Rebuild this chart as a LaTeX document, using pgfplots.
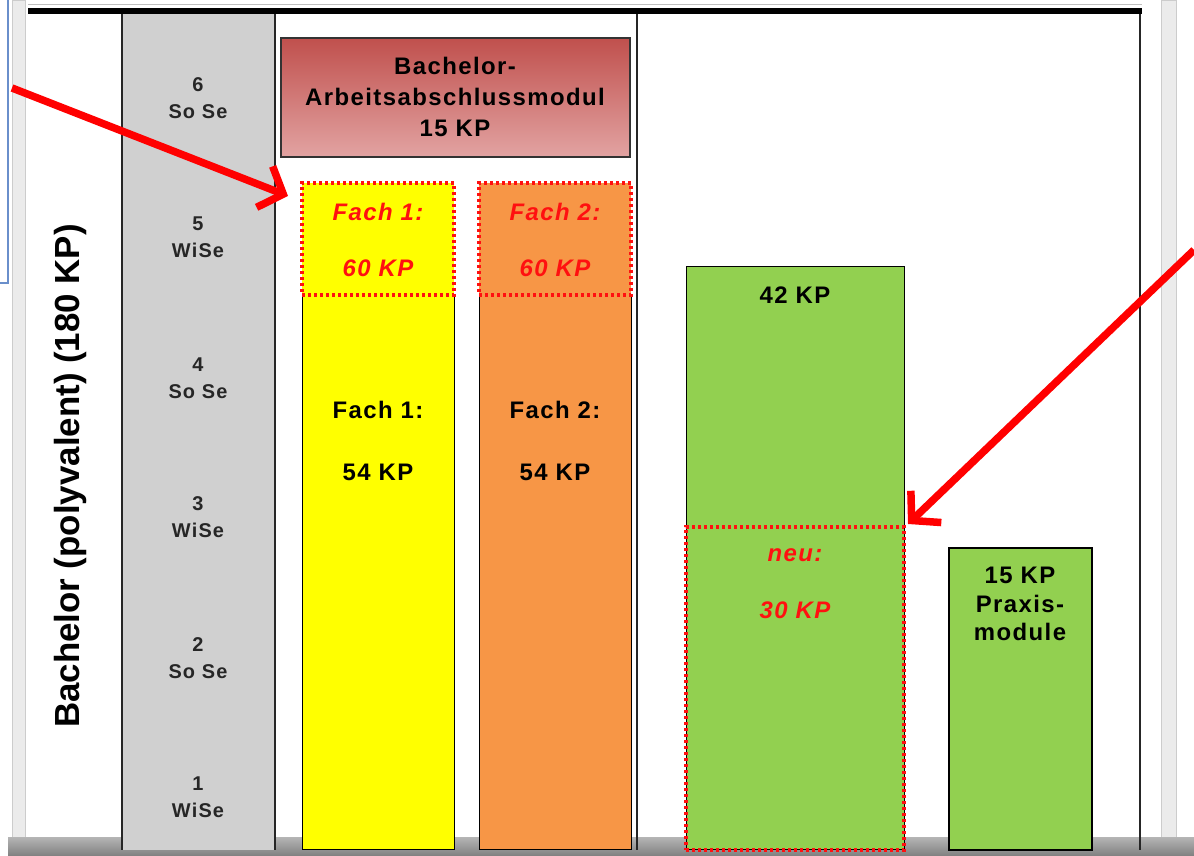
\documentclass[border=0pt]{standalone}
\usepackage{fontspec}
\setmainfont{Liberation Sans}
\newfontfamily\spaced[LetterSpace=6]{Liberation Sans}
\usepackage{pgfplots}
\pgfplotsset{compat=1.18}
\usetikzlibrary{arrows.meta}

\definecolor{colgray}{HTML}{D0D0D0}
\definecolor{colyel}{HTML}{FFFF00}
\definecolor{colora}{HTML}{F79646}
\definecolor{colgrn}{HTML}{92D050}
\definecolor{redtop}{HTML}{C0504D}
\definecolor{redbot}{HTML}{E2A3A2}
\definecolor{kpred}{HTML}{FF1010}
\definecolor{selblue}{HTML}{6A8FCB}

\begin{document}
\begin{tikzpicture}
\begin{axis}[
    x=1bp, y=1bp,
    xmin=0, xmax=1194, ymin=0, ymax=856,
    hide axis, clip=true,
]
% background and window frame
\addplot[fill=white, draw=none] coordinates {(0,0) (1194,0) (1194,856) (0,856)} --cycle;
\addplot[fill=black!8, draw=black!20] coordinates {(12,0) (25,0) (25,856) (12,856)} --cycle;
\addplot[fill=black!8, draw=black!20] coordinates {(1161,0) (1176,0) (1176,856) (1161,856)} --cycle;
\addplot[selblue, line width=1.4bp] coordinates {(8,856) (8,573) (0,573)};
\addplot[top color=black!30, bottom color=black!50, draw=none] coordinates {(8,0) (1194,0) (1194,18) (8,18)} --cycle;

% semester column
\addplot[fill=colgray, draw=none] coordinates {(122,6) (275,6) (275,842) (122,842)} --cycle;
\addplot[black!85, line width=1.6bp] coordinates {(122,6) (122,842)};
\addplot[black!85, line width=1.6bp] coordinates {(275,6) (275,842)};
\addplot[black!85, line width=1.6bp] coordinates {(637,6) (637,842)};
\addplot[black!85, line width=1.6bp] coordinates {(1140,6) (1140,842)};
\addplot[black!25, line width=1bp] coordinates {(28,851) (1142,851)};
\addplot[black, line width=6bp] coordinates {(28,845) (1142,845)};

% thesis module
\addplot[top color=redtop, bottom color=redbot, draw=black!80, line width=1.2bp]
    coordinates {(281,699) (630,699) (630,818) (281,818)} --cycle;

% Fach 1 / Fach 2 (54 KP plus extension to 60 KP)
\addplot[fill=colyel, draw=black, line width=1bp] coordinates {(302,6) (454,6) (454,561) (302,561)} --cycle;
\addplot[fill=colora, draw=black, line width=1bp] coordinates {(479,6) (631,6) (631,561) (479,561)} --cycle;
\addplot[fill=colyel, draw=none] coordinates {(302,561) (454,561) (454,673) (302,673)} --cycle;
\addplot[fill=colora, draw=none] coordinates {(479,561) (631,561) (631,673) (479,673)} --cycle;
\addplot[kpred, line width=3.2bp, dash pattern=on 3bp off 3bp] coordinates {(302,561) (454,561) (454,673) (302,673) (302,561)};
\addplot[kpred, line width=3.2bp, dash pattern=on 3bp off 3bp] coordinates {(479,561) (631,561) (631,673) (479,673) (479,561)};

% 42 KP with 30 KP new part, 15 KP practice modules
\addplot[fill=colgrn, draw=black, line width=1bp] coordinates {(686,6) (904,6) (904,589) (686,589)} --cycle;
\addplot[kpred, line width=3.2bp, dash pattern=on 3bp off 3bp] coordinates {(686,6) (904,6) (904,329) (686,329) (686,6)};
\addplot[fill=colgrn, draw=black, line width=1.6bp] coordinates {(949,6) (1092,6) (1092,308) (949,308)} --cycle;

% arrows
\addplot[red, line width=7.5bp, -{Straight Barb[length=20bp, width=44bp, line width=7.5bp]}] coordinates {(12,768) (288,660)};
\addplot[red, line width=7.5bp, -{Straight Barb[length=20bp, width=44bp, line width=7.5bp]}] coordinates {(1194,606) (908,332)};

% texts
\node[rotate=90, font=\bfseries\fontsize{35}{38}\selectfont] at (axis cs:70,380) {Bachelor (polyvalent) (180 KP)};
\node[align=center, font=\spaced\bfseries\fontsize{20}{27}\selectfont, text=black!85] at (axis cs:198,758) {6\\So Se};
\node[align=center, font=\spaced\bfseries\fontsize{20}{27}\selectfont, text=black!85] at (axis cs:198,619) {5\\WiSe};
\node[align=center, font=\spaced\bfseries\fontsize{20}{27}\selectfont, text=black!85] at (axis cs:198,478) {4\\So Se};
\node[align=center, font=\spaced\bfseries\fontsize{20}{27}\selectfont, text=black!85] at (axis cs:198,339) {3\\WiSe};
\node[align=center, font=\spaced\bfseries\fontsize{20}{27}\selectfont, text=black!85] at (axis cs:198,198) {2\\So Se};
\node[align=center, font=\spaced\bfseries\fontsize{20}{27}\selectfont, text=black!85] at (axis cs:198,59) {1\\WiSe};
\node[align=center, font=\spaced\bfseries\fontsize{24}{31}\selectfont] at (axis cs:455,759) {Bachelor-\\Arbeitsabschlussmodul\\15 KP};
\node[align=center, text=kpred, font=\spaced\bfseries\itshape\fontsize{24}{56}\selectfont] at (axis cs:378,616) {Fach 1:\\60 KP};
\node[align=center, text=kpred, font=\spaced\bfseries\itshape\fontsize{24}{56}\selectfont] at (axis cs:555,616) {Fach 2:\\60 KP};
\node[align=center, font=\spaced\bfseries\fontsize{24}{62}\selectfont] at (axis cs:378,415) {Fach 1:\\54 KP};
\node[align=center, font=\spaced\bfseries\fontsize{24}{62}\selectfont] at (axis cs:555,415) {Fach 2:\\54 KP};
\node[font=\spaced\bfseries\fontsize{24}{28}\selectfont] at (axis cs:795,561) {42 KP};
\node[align=center, text=kpred, font=\spaced\bfseries\itshape\fontsize{24}{57}\selectfont] at (axis cs:795,272) {neu:\\30 KP};
\node[align=center, font=\spaced\bfseries\fontsize{24}{29}\selectfont] at (axis cs:1020,252) {15 KP\\Praxis-\\module};
\end{axis}
\end{tikzpicture}
\end{document}
